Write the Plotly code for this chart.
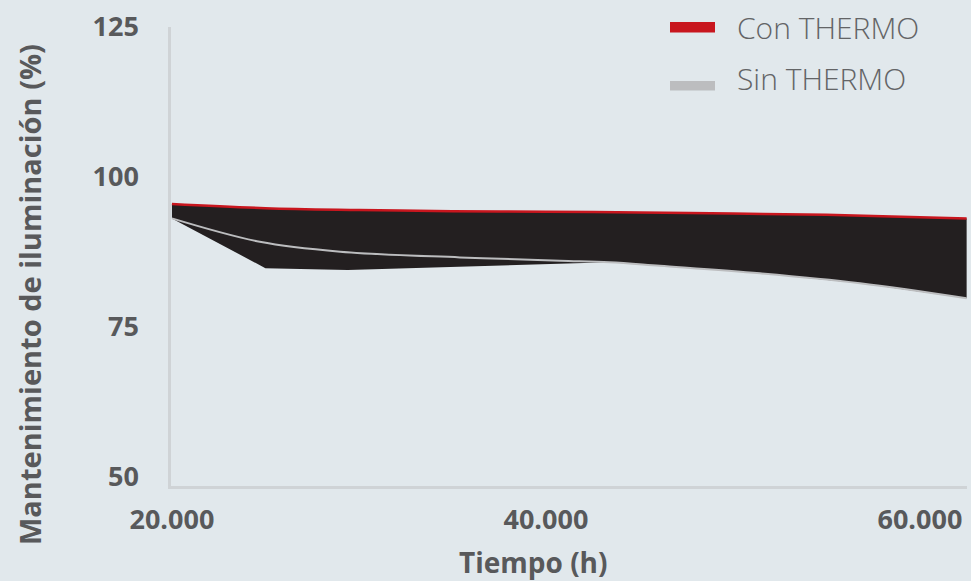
import plotly.graph_objects as go

# ---- data ----
hours_con = [20000, 25000, 30000, 35000, 40000, 45000, 50000, 55000, 62500]
con_thermo = [95.5, 94.8, 94.5, 94.3, 94.2, 94.1, 93.9, 93.7, 93.1]

hours_sin = [20000, 24700, 29000, 35400, 40750, 43400, 46100, 51450, 56800, 62500]
sin_thermo = [93.1, 89.2, 87.55, 86.6, 86.05, 85.8, 85.2, 83.95, 82.3, 79.8]

# lower edge of the dark band
hours_band = [20000, 25000, 29400, 43400, 46100, 51450, 56800, 62500]
band_low = [93.1, 84.8, 84.5, 85.8, 85.2, 83.95, 82.3, 79.8]

x_ticks = [20000, 40000, 60000]
x_ticklabels = ["20.000", "40.000", "60.000"]
y_ticks = [50, 75, 100, 125]
y_ticklabels = ["50", "75", "100", "125"]

series_names = ["Con THERMO", "Sin THERMO"]

BG = "#e1e8ec"
TXT = "#58595b"
RED = "#c8161e"
GRAY = "#bcbdbf"

W, H = 971, 581
L, R, T, B = 171, 4, 27, 95
PW, PH = W - L - R, H - T - B


def px(xp):
    return (xp - L) / PW


def py(yp):
    return (H - B - yp) / PH


fig = go.Figure()

# dark band between Con THERMO and lower edge
fig.add_trace(go.Scatter(
    x=hours_con + hours_band[::-1],
    y=con_thermo + band_low[::-1],
    fill="toself", fillcolor="#231f20", mode="none",
    showlegend=False, hoverinfo="skip"))

fig.add_trace(go.Scatter(
    x=hours_sin, y=sin_thermo, mode="lines",
    line=dict(color=GRAY, width=2, shape="spline"),
    showlegend=False, name=series_names[1]))

fig.add_trace(go.Scatter(
    x=hours_con, y=con_thermo, mode="lines",
    line=dict(color=RED, width=2.5, shape="spline"),
    showlegend=False, name=series_names[0]))

fig.update_layout(
    width=W, height=H,
    paper_bgcolor=BG, plot_bgcolor=BG,
    margin=dict(l=L, r=R, t=T, b=B, autoexpand=False),
    font=dict(family="Open Sans", color=TXT),
    showlegend=False,
    xaxis=dict(range=[19950, 62520], tickvals=x_ticks, ticktext=x_ticklabels,
               showgrid=False, zeroline=False, showline=True, automargin=False,
               linecolor="#cfd3d6", linewidth=2.5,
               ticks="outside", ticklen=8, tickcolor=BG,
               tickfont=dict(size=27, family="Open Sans", weight="bold", color=TXT)),
    yaxis=dict(range=[48.5, 125], tickvals=y_ticks, ticktext=y_ticklabels,
               showgrid=False, zeroline=False, showline=True, automargin=False,
               linecolor="#cfd3d6", linewidth=2.5,
               ticks="outside", ticklen=24, tickcolor=BG,
               tickfont=dict(size=27, family="Open Sans", weight="bold", color=TXT)),
)

# axis titles
fig.add_annotation(text="Tiempo (h)", xref="paper", yref="paper",
                   x=px(533), y=py(562),
                   xanchor="center", yanchor="middle", showarrow=False,
                   font=dict(size=28, family="Open Sans", weight="bold", color=TXT))
fig.add_annotation(text="Mantenimiento de iluminación (%)", xref="paper", yref="paper",
                   x=px(29), y=py(295),
                   xanchor="center", yanchor="middle", textangle=-90, showarrow=False,
                   font=dict(size=29, family="Open Sans", weight="bold", color=TXT))

# legend (swatches + labels)
legend_items = [(series_names[0], RED, 22, 32.5, 27), (series_names[1], GRAY, 81, 90.5, 78)]
for name, col, y0, y1, yc in legend_items:
    fig.add_shape(type="rect", xref="paper", yref="paper",
                  x0=px(670), x1=px(715), y0=py(y1), y1=py(y0),
                  fillcolor=col, line=dict(width=0))
    fig.add_annotation(text=name, xref="paper", yref="paper",
                       x=px(735), y=py(yc), xanchor="left", yanchor="middle",
                       showarrow=False,
                       font=dict(size=30, family="Open Sans", weight=300, color="#636466"))

fig.write_html(
    "out.html",
    config={"displayModeBar": False},
    post_script="document.body.style.margin='0';document.body.style.overflow='hidden';",
)
